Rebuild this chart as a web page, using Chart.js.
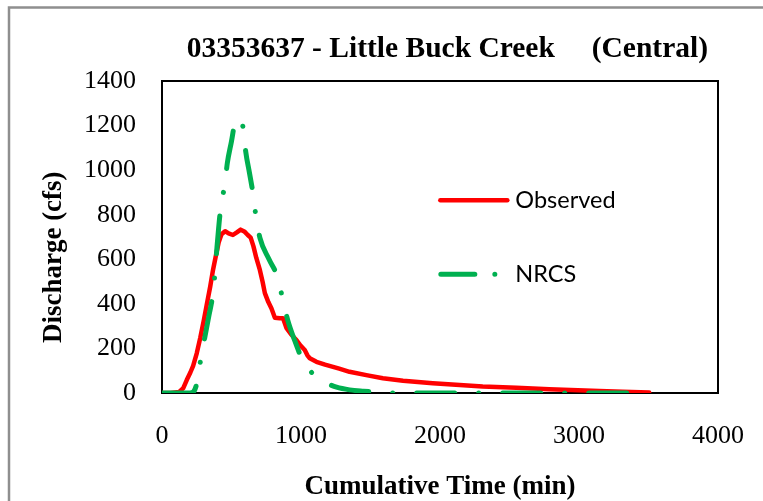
<!DOCTYPE html>
<html>
<head>
<meta charset="utf-8">
<script src="https://cdn.jsdelivr.net/npm/chart.js@4.4.1/dist/chart.umd.min.js"></script>
<style>
    html, body { margin: 0; padding: 0; background: #fff; }
    canvas { display: block; }
</style>
</head>
<body>
<canvas id="chart" width="763" height="501"></canvas>
<script>
// hydrograph (time in min, discharge in cfs)
const obsTime = [0, 61, 122, 153, 178, 204, 224, 250, 275, 301, 321, 347, 367, 388, 408, 428, 454, 479, 510, 541, 566, 592, 617, 638, 658, 678, 704, 724, 740, 765, 787, 812, 847, 871, 896, 928, 967, 995, 1027, 1046, 1063, 1111, 1173, 1275, 1349, 1479, 1589, 1734, 1948, 2142, 2307, 2550, 2786, 3146, 3315, 3505]
const obsFlow = [0, 0, 4, 22, 58, 92, 122, 178, 247, 327, 393, 478, 552, 617, 676, 712, 726, 716, 709, 722, 733, 725, 709, 697, 658, 607, 552, 498, 448, 408, 380, 338, 335, 335, 291, 264, 238, 214, 193, 169, 156, 140, 127, 109, 95, 79, 66, 55, 44, 36, 29, 24, 17, 9, 6, 2]

const nrcsTime = [0, 201, 226, 249, 280, 309, 337, 365, 381, 393, 422, 453, 470, 500, 525, 545, 565, 585, 602, 630, 656, 676, 705, 770, 832, 868, 904, 955, 1009, 1060, 1107, 1180, 1256, 1350, 1450, 1544, 1650, 2500, 3444]
const nrcsFlow = [0, 0, 5, 40, 156, 253, 345, 440, 538, 635, 830, 940, 1032, 1130, 1215, 1232, 1222, 1185, 1085, 985, 890, 792, 695, 600, 518, 422, 328, 235, 151, 105, 71, 45, 26, 14, 8, 4, 0, 0, 0]

const seriesNames = ['Observed', 'NRCS']
const xTicks = [0, 1000, 2000, 3000, 4000]
const yTicks = [0, 200, 400, 600, 800, 1000, 1200, 1400]

const chartTitle = '  03353637 - Little Buck Creek     (Central)'   // leading blanks nudge it right of the plot centre
const xTitle = 'Cumulative Time (min)'
const yTitle = 'Discharge (cfs)      '   // trailing blanks push the rotated title down like Excel did

const serif = "'Liberation Serif', 'Times New Roman', serif"
const sans = "Lato, 'Liberation Sans', sans-serif"
const red = '#FF0000'
const green = '#00B050'
const nrcsDash = [38, 24, 0.01, 24]

Chart.defaults.font.family = serif
Chart.defaults.color = '#000'

const toPoints = (xs, ys) => xs.map((x, i) => ({x, y: ys[i]}))
const plain = (value) => value.toString()   // no thousands separator

// white page + grey outer frame like the Excel chart area
const frame = {
    id: 'frame',
    beforeDraw(chart) {
        const {ctx, width, height} = chart
        ctx.save()
        ctx.fillStyle = '#fff'
        ctx.fillRect(0, 0, width, height)
        ctx.strokeStyle = '#8f8f8f'
        ctx.lineWidth = 2.5
        ctx.beginPath()
        ctx.moveTo(9, height)
        ctx.lineTo(9, 7.5)
        ctx.lineTo(width, 7.5)
        ctx.stroke()
        ctx.restore()
    },
    beforeDatasetsDraw(chart) {
        const {ctx, chartArea: a} = chart
        ctx.save()
        ctx.strokeStyle = '#000'
        ctx.lineWidth = 2
        ctx.strokeRect(a.left, a.top, a.right - a.left, a.bottom - a.top)
        ctx.restore()
    }
}

// legend sits inside the plot area
const insideLegend = {
    id: 'insideLegend',
    afterDatasetsDraw(chart) {
        const {ctx, chartArea: a} = chart
        const x0 = a.left + (a.right - a.left) * 0.497
        const rows = [a.top + (a.bottom - a.top) * 0.382, a.top + (a.bottom - a.top) * 0.619]
        ctx.save()
        ctx.lineCap = 'round'
        // Observed
        ctx.strokeStyle = red
        ctx.lineWidth = 4.5
        ctx.beginPath()
        ctx.moveTo(x0 + 2, rows[0])
        ctx.lineTo(x0 + 69, rows[0])
        ctx.stroke()
        // NRCS
        ctx.strokeStyle = green
        ctx.lineWidth = 5
        ctx.setLineDash([34, 20, 0.01, 40])
        ctx.beginPath()
        ctx.moveTo(x0 + 2.5, rows[1])
        ctx.lineTo(x0 + 60, rows[1])
        ctx.stroke()
        ctx.setLineDash([])
        ctx.fillStyle = '#000'
        ctx.font = '23.5px ' + sans
        ctx.textBaseline = 'middle'
        ctx.fillText(seriesNames[0], x0 + 77, rows[0])
        ctx.fillText(seriesNames[1], x0 + 77, rows[1])
        ctx.restore()
    }
}

new Chart(document.getElementById('chart'), {
    type: 'line',
    plugins: [frame, insideLegend],
    data: {
        datasets: [
            {
                label: seriesNames[1],
                data: toPoints(nrcsTime, nrcsFlow),
                borderColor: green,
                borderWidth: 5,
                borderDash: nrcsDash,
                borderCapStyle: 'round',
                borderJoinStyle: 'round',
                cubicInterpolationMode: 'monotone',
                pointRadius: 0,
                order: 0
            },
            {
                label: seriesNames[0],
                data: toPoints(obsTime, obsFlow),
                borderColor: red,
                borderWidth: 4.5,
                borderCapStyle: 'round',
                borderJoinStyle: 'round',
                tension: 0,
                pointRadius: 0,
                order: 1
            }
        ]
    },
    options: {
        responsive: false,
        animation: false,
        layout: {padding: {left: 0, right: 45, top: 0, bottom: 0}},
        plugins: {
            legend: {display: false},
            tooltip: {enabled: false},
            title: {
                display: true,
                text: chartTitle,
                fullSize: false,
                color: '#000',
                font: {size: 29.5, weight: 'bold', family: serif},
                padding: {top: 31.3, bottom: 14.3}
            }
        },
        scales: {
            x: {
                type: 'linear',
                min: xTicks[0],
                max: xTicks[xTicks.length - 1],
                afterFit(scale) { scale.height = 108 },
                ticks: {stepSize: xTicks[1] - xTicks[0], padding: 0, font: {size: 26}, color: '#000', maxRotation: 0, callback: plain},
                // invisible tick marks keep the labels away from the axis without widening the side padding
                grid: {display: true, drawOnChartArea: false, drawTicks: true, tickLength: 28, color: 'rgba(0,0,0,0)'},
                border: {display: false},
                title: {
                    display: true,
                    text: xTitle,
                    color: '#000',
                    font: {size: 27, weight: 'bold', lineHeight: 1},
                    padding: {top: 0, bottom: 0}
                }
            },
            y: {
                min: yTicks[0],
                max: yTicks[yTicks.length - 1],
                afterFit(scale) { scale.width = 162 },
                ticks: {stepSize: yTicks[1] - yTicks[0], padding: 26, font: {size: 26}, color: '#000', callback: plain},
                grid: {display: false, drawTicks: false},
                border: {display: false},
                title: {
                    display: true,
                    text: yTitle,
                    color: '#000',
                    font: {size: 27, weight: 'bold'},
                    padding: {top: 38.2, bottom: 0}
                }
            }
        }
    }
})
</script>
</body>
</html>
